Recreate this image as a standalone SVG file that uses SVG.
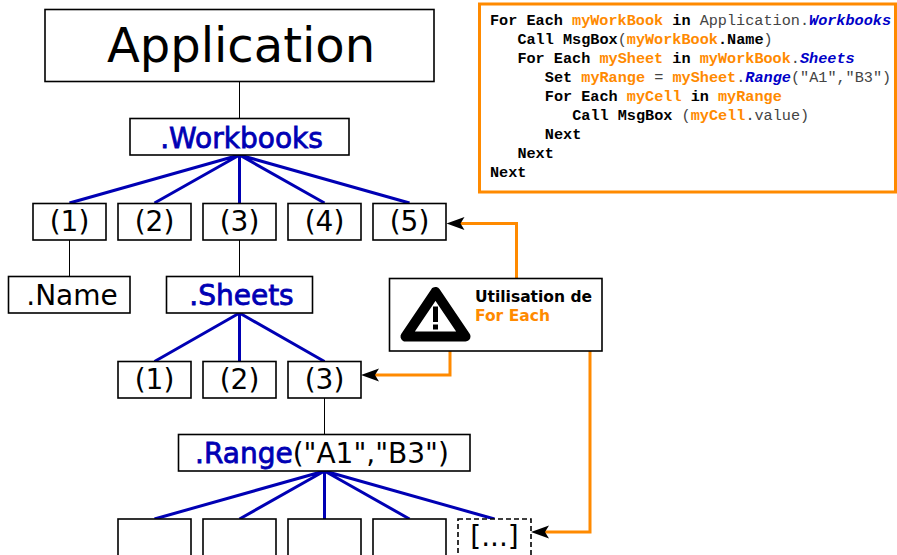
<svg xmlns="http://www.w3.org/2000/svg" width="897" height="555" viewBox="0 0 897 555">
<style>
.box{fill:#fff;stroke:#000;stroke-width:1.6}
.dash{fill:#fff;stroke:#000;stroke-width:1.6;stroke-dasharray:5,3}
.t{font-family:"DejaVu Sans",sans-serif;font-size:28px;fill:#000}
.m{text-anchor:middle}
.b{fill:#0000b4;stroke:#0000b4;stroke-width:0.8}
.thin{stroke:#000;stroke-width:1;fill:none}
.blue{stroke:#0000b4;stroke-width:3;fill:none}
.or{stroke:#ff8a00;stroke-width:3;fill:none;marker-end:url(#ah)}
.code{font-family:"Liberation Mono","DejaVu Sans Mono",monospace;font-size:15.2px;font-weight:bold;fill:#000}
.g{font-weight:normal;fill:#444}
.o{fill:#ff8a00}
.k{fill:#0000c8;font-style:italic}
.w{font-family:"DejaVu Sans",sans-serif;font-size:15.5px;font-weight:bold}
</style>
<defs>
<marker id="ah" markerUnits="userSpaceOnUse" markerWidth="20" markerHeight="16" viewBox="0 -8 20 16" refX="8" refY="0" orient="auto">
<path d="M0,-6.5 L18,0 L0,6.5 L4,0 z" fill="#000"/>
</marker>
</defs>

<g id="connectors">
<line class="thin" x1="239.5" y1="81" x2="239.5" y2="118"/>
<line class="thin" x1="69.5" y1="240" x2="69.5" y2="276.5"/>
<line class="thin" x1="239.5" y1="240" x2="239.5" y2="276.5"/>
<line class="thin" x1="324.5" y1="398" x2="324.5" y2="434"/>
<path class="blue" d="M239.5,155 L69.5,203 M239.5,155 L154.5,203 M239.5,155 L239.5,203 M239.5,155 L324.5,203 M239.5,155 L409.5,203"/>
<path class="blue" d="M239.5,313 L154.5,361.5 M239.5,313 L239.5,361.5 M239.5,313 L324.5,361.5"/>
<path class="blue" d="M324.5,471 L154.5,519 M324.5,471 L239.5,519 M324.5,471 L324.5,519 M324.5,471 L409.5,519 M324.5,471 L494.5,519"/>
<path class="or" d="M516.5,278.5 V223.5 H456.5"/>
<path class="or" d="M450,351 V375 H371"/>
<path class="or" d="M590,351 V532 H541"/>
</g>

<g id="application">
<rect class="box" x="45" y="9.5" width="389" height="72"/>
<text class="t m" x="241" y="62" style="font-size:48px">Application</text>
</g>
<g id="workbooks">
<rect class="box" x="130" y="118.5" width="219" height="36.5"/>
<text class="t m b" x="241.5" y="148">.Workbooks</text>
</g>
<g id="wb1"><rect class="box" x="33" y="203.5" width="73" height="36.5"/><text class="t m" x="69.5" y="230.5">(1)</text></g>
<g id="wb2"><rect class="box" x="118" y="203.5" width="73" height="36.5"/><text class="t m" x="154.5" y="230.5">(2)</text></g>
<g id="wb3"><rect class="box" x="203" y="203.5" width="73" height="36.5"/><text class="t m" x="239.5" y="230.5">(3)</text></g>
<g id="wb4"><rect class="box" x="288" y="203.5" width="73" height="36.5"/><text class="t m" x="324.5" y="230.5">(4)</text></g>
<g id="wb5"><rect class="box" x="373" y="203.5" width="73" height="36.5"/><text class="t m" x="409.5" y="230.5">(5)</text></g>

<g id="name">
<rect class="box" x="8.5" y="276.5" width="121.5" height="36.5"/>
<text class="t m" x="72" y="305">.Name</text>
</g>
<g id="sheets">
<rect class="box" x="166.5" y="276.5" width="146" height="36.5"/>
<text class="t m b" x="241.5" y="305">.Sheets</text>
</g>
<g id="sh1"><rect class="box" x="118" y="361.5" width="73" height="36.5"/><text class="t m" x="154.5" y="389">(1)</text></g>
<g id="sh2"><rect class="box" x="203" y="361.5" width="73" height="36.5"/><text class="t m" x="239.5" y="389">(2)</text></g>
<g id="sh3"><rect class="box" x="288" y="361.5" width="73" height="36.5"/><text class="t m" x="324.5" y="389">(3)</text></g>

<g id="range">
<rect class="box" x="178.5" y="434.5" width="291.5" height="36.5"/>
<text class="t" x="195" y="463"><tspan class="b">.Range</tspan>("A1","B3")</text>
</g>
<g id="c1"><rect class="box" x="118" y="519" width="73" height="40"/></g>
<g id="c2"><rect class="box" x="203" y="519" width="73" height="40"/></g>
<g id="c3"><rect class="box" x="288" y="519" width="73" height="40"/></g>
<g id="c4"><rect class="box" x="373" y="519" width="73" height="40"/></g>
<g id="c5"><rect class="dash" x="458" y="519" width="73" height="40"/><text class="t m" x="494.5" y="546">[...]</text></g>

<g id="warning">
<rect class="box" x="389.5" y="278.5" width="212.5" height="72.5"/>
<path d="M435.5,292 L405.5,336.5 L465.5,336.5 z" fill="#fff" stroke="#000" stroke-width="10" stroke-linejoin="round"/>
<rect x="433" y="306.5" width="5" height="15.5" fill="#000"/>
<rect x="433" y="324.5" width="5" height="5" fill="#000"/>
<text class="w" x="475" y="301.5" fill="#000">Utilisation de</text>
<text class="w" x="475" y="321" fill="#ff8a00">For Each</text>
</g>

<g id="code">
<rect x="479.5" y="4" width="416" height="188" fill="#fff" stroke="#ff8a00" stroke-width="3"/>
<text class="code" xml:space="preserve"><tspan x="490" y="25">For Each <tspan class="o">myWorkBook</tspan> in <tspan class="g">Application.</tspan><tspan class="k">Workbooks</tspan></tspan><tspan x="517.4" y="44">Call MsgBox<tspan class="g">(</tspan><tspan class="o">myWorkBook</tspan>.Name<tspan class="g">)</tspan></tspan><tspan x="517.4" y="63">For Each <tspan class="o">mySheet</tspan> in <tspan class="o">myWorkBook</tspan><tspan class="g">.</tspan><tspan class="k">Sheets</tspan></tspan><tspan x="544.8" y="82">Set <tspan class="o">myRange</tspan><tspan class="g"> = </tspan><tspan class="o">mySheet</tspan><tspan class="g">.</tspan><tspan class="k">Range</tspan><tspan class="g">("A1","B3")</tspan></tspan><tspan x="544.8" y="101">For Each <tspan class="o">myCell</tspan> in <tspan class="o">myRange</tspan></tspan><tspan x="572.2" y="120">Call MsgBox<tspan class="g"> (</tspan><tspan class="o">myCell</tspan><tspan class="g">.value)</tspan></tspan><tspan x="544.8" y="139">Next</tspan><tspan x="517.4" y="158">Next</tspan><tspan x="490" y="177">Next</tspan></text>
</g>
</svg>
